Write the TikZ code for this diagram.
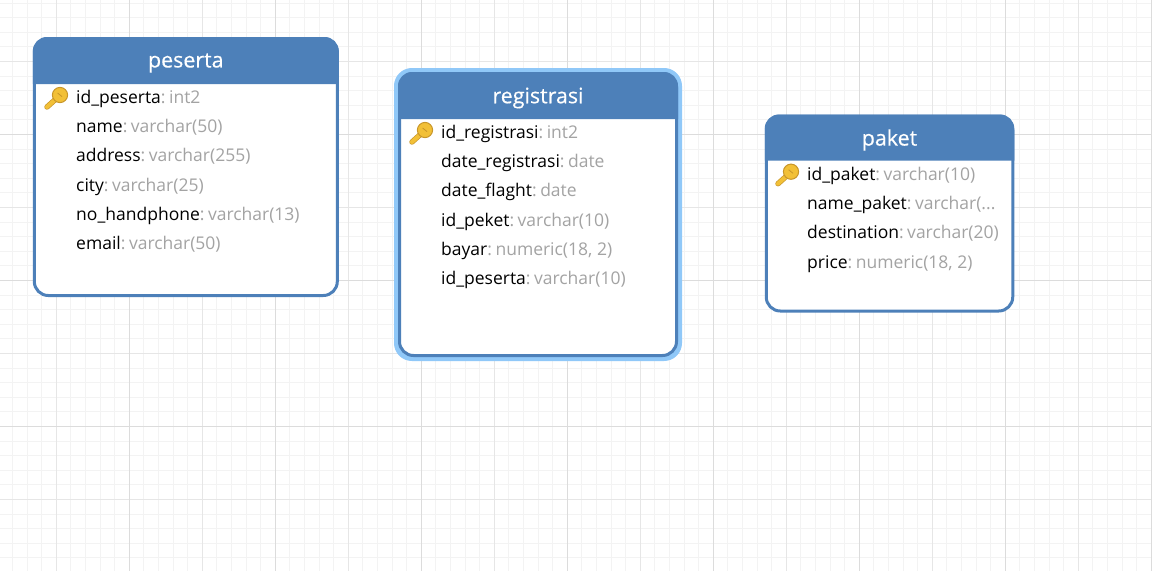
\documentclass[tikz,border=0pt]{standalone}
\usepackage{fontspec}
\setmainfont{Open Sans}
\definecolor{entityblue}{HTML}{4D80B9}
\definecolor{glowblue}{HTML}{90C8F8}
\definecolor{typegray}{HTML}{A3A3A3}
\definecolor{keygold}{HTML}{F2C037}
\definecolor{keyedge}{HTML}{C8962A}
\definecolor{gridminor}{HTML}{F3F3F3}
\definecolor{gridmajor}{HTML}{E6E6E6}
\definecolor{gridbold}{HTML}{DCDCDC}
\tikzset{
	entitybox/.style = {draw=entityblue, line width=3, fill=white, rounded corners=14, inner sep=0},
	glowbox/.style = {draw=glowblue, line width=4, fill=glowblue, rounded corners=16, inner sep=0},
	titletext/.style = {text=white, inner sep=0, font=\fontsize{21.4}{25}\selectfont\addfontfeature{FakeBold=0.4}},
	fieldtext/.style = {anchor=base west, inner sep=0, font=\fontsize{17.5}{21}\selectfont},
	keyicon/.pic = {
		\draw[keyedge, line width=5.4, line cap=round] (-3,3) -- (-13,12);
		\draw[keygold, line width=4, line cap=round] (-3,3) -- (-13,12);
		\draw[keyedge, line width=1, fill=keygold] (0,0) circle (7.6);
		\draw[keyedge, line width=.8] (-2.4,-2) -- (2,1.6);
	}
}
\newcommand{\entityhead}[3]{
	\fill[entityblue] ([yshift=-#3]#1.north west) [rounded corners=14] -- (#1.north west)
		-- (#1.north east) [sharp corners] -- ([yshift=-#3]#1.north east) -- cycle;
	\node[titletext] (#1 title) at ([yshift=-#3/2-2.5]#1.north) {#2};
}
\newcommand{\fieldsep}{\textcolor{typegray}{:}\hspace{.2em}}
\begin{document}
\begin{tikzpicture}[x=1pt, y=-1pt]
	\useasboundingbox (0,0) rectangle (1152,571);

	% grid
	\foreach \i in {0,...,78}
		\draw[gridminor, line width=.8] ({12.4+14.6*\i},0) -- ({12.4+14.6*\i},571);
	\foreach \i in {0,...,38}
		\draw[gridminor, line width=.8] (0,{2.9+14.6*\i}) -- (1152,{2.9+14.6*\i});
	\foreach \i in {0,...,15}
		\draw[gridmajor, line width=.8] ({56.3+73*\i},0) -- ({56.3+73*\i},571);
	\foreach \i in {0,...,6}
		\draw[gridmajor, line width=.8] (0,{61.3+73*\i}) -- (1152,{61.3+73*\i});
	\foreach \i in {0,...,7}
		\draw[gridbold, line width=.8] ({129.3+146*\i},0) -- ({129.3+146*\i},571);
	\foreach \i in {0,...,2}
		\draw[gridbold, line width=.8] (0,{134.3+146*\i}) -- (1152,{134.3+146*\i});

	% tables
	\node[entitybox, minimum width=303, minimum height=257] (peserta) at (185.8,167) {};
	\entityhead{peserta}{peserta}{47}
	\pic at (60,95) {keyicon};
	\foreach \fname/\ftype [count=\i] in {id\_peserta/int2, name/varchar(50),
		address/varchar(255), city/varchar(25), no\_handphone/varchar(13), email/varchar(50)}
		\node[fieldtext] (peserta-\i) at (76,{74.3+29.2*\i}) {\fname\fieldsep\textcolor{typegray}{\ftype}};

	\node[glowbox, minimum width=284, minimum height=289] (registrasi glow) at (538,214.5) {};
	\node[entitybox, minimum width=277, minimum height=282] (registrasi) at (538,214.5) {};
	\entityhead{registrasi}{registrasi}{47}
	\pic at (425,130) {keyicon};
	\foreach \fname/\ftype [count=\i] in {id\_registrasi/int2, date\_registrasi/date,
		date\_flaght/date, id\_peket/varchar(10), bayar/{numeric(18, 2)}, id\_peserta/varchar(10)}
		\node[fieldtext] (registrasi-\i) at (441,{109.3+29.2*\i}) {\fname\fieldsep\textcolor{typegray}{\ftype}};

	\node[entitybox, minimum width=246.5, minimum height=195] (paket) at (889.5,213.5) {};
	\entityhead{paket}{paket}{46}
	\pic at (791,171.7) {keyicon};
	\foreach \fname/\ftype [count=\i] in {id\_paket/varchar(10), name\_paket/varchar(.{}.{}.,
		destination/varchar(20), price/{numeric(18, 2)}}
		\node[fieldtext] (paket-\i) at (807,{150.6+29.4*\i}) {\fname\fieldsep\textcolor{typegray}{\ftype}};
\end{tikzpicture}
\end{document}
